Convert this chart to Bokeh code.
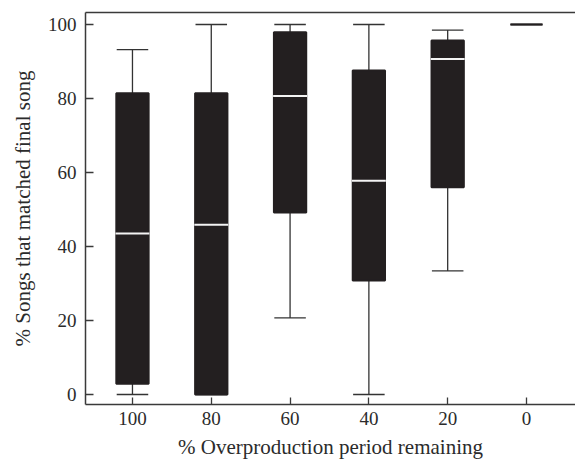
from bokeh.plotting import figure
from bokeh.models import FixedTicker, Range1d, ColumnDataSource, LinearAxis
from bokeh.embed import file_html
from bokeh.resources import INLINE

# data
categories = ["100", "80", "60", "40", "20", "0"]
lower = [0, 0, 20.7, 0, 33.4, 100]
q1 = [2.9, 0, 49.2, 30.8, 56.0, 100]
median = [43.5, 45.9, 80.7, 57.8, 90.7, 100]
q3 = [81.4, 81.4, 97.9, 87.6, 95.7, 100]
upper = [93.2, 100, 100, 100, 98.5, 100]

pos = list(range(1, len(categories) + 1))
dark = "#231f20"
txt = "#2b2b2b"
serif = "Liberation Serif"

p = figure(width=575, height=461, output_backend="svg", toolbar_location=None,
           x_range=Range1d(0.404, 6.622), y_range=Range1d(-2.7, 103.25),
           min_border_left=85, min_border_right=0, min_border_top=12, min_border_bottom=57)
p.grid.visible = False
p.outline_line_color = None

# top frame line (no right border in the original)
top_axis = LinearAxis(ticker=FixedTicker(ticks=[]), axis_line_color="#3a3a3a", axis_line_width=1.5,
                      major_tick_line_color=None, minor_tick_line_color=None,
                      major_label_text_font_size="0px", major_label_standoff=0)
p.add_layout(top_axis, "above")

src = ColumnDataSource(dict(x=pos, lower=lower, q1=q1, median=median, q3=q3, upper=upper,
                            cl=[x - 0.2 for x in pos], cr=[x + 0.2 for x in pos]))

# whiskers
p.segment(x0="x", y0="q3", x1="x", y1="upper", source=src, line_color="#333333", line_width=1.3)
p.segment(x0="x", y0="q1", x1="x", y1="lower", source=src, line_color="#333333", line_width=1.3)
p.segment(x0="cl", y0="upper", x1="cr", y1="upper", source=src, line_color="#333333", line_width=1.3)
p.segment(x0="cl", y0="lower", x1="cr", y1="lower", source=src, line_color="#333333", line_width=1.3)

# boxes
p.vbar(x="x", top="q3", bottom="q1", width=0.41, source=src,
       fill_color=dark, line_color=dark, line_width=2)

# medians (only for non-degenerate boxes)
idx = [i for i in range(len(pos)) if q3[i] > q1[i]]
msrc = ColumnDataSource(dict(x0=[pos[i] - 0.215 for i in idx], x1=[pos[i] + 0.215 for i in idx],
                             y=[median[i] for i in idx]))
p.segment(x0="x0", y0="y", x1="x1", y1="y", source=msrc, line_color="#f4f4f4", line_width=2)

# axes
xax = p.below[0]
yax = p.left[0]
xax.ticker = FixedTicker(ticks=pos)
xax.major_label_overrides = {pv: c for pv, c in zip(pos, categories)}
yax.ticker = FixedTicker(ticks=[0, 20, 40, 60, 80, 100])
xax.axis_label = "% Overproduction period remaining"
yax.axis_label = "% Songs that matched final song"
for ax in (xax, yax):
    ax.axis_line_color = "#3a3a3a"
    ax.axis_line_width = 1.5
    ax.major_tick_line_color = "#3a3a3a"
    ax.major_tick_line_width = 1.3
    ax.major_tick_out = 0
    ax.minor_tick_line_color = None
    ax.major_label_text_font = serif
    ax.major_label_text_font_size = "19px"
    ax.major_label_text_color = txt
    ax.axis_label_text_font = serif
    ax.axis_label_text_font_size = "21px"
    ax.axis_label_text_font_style = "normal"
    ax.axis_label_text_color = txt
xax.major_tick_in = 7
yax.major_tick_in = 8
xax.major_label_standoff = 7
yax.major_label_standoff = 9
xax.axis_label_standoff = 7
yax.axis_label_standoff = 10

open("out.html", "w").write(file_html(p, INLINE))
